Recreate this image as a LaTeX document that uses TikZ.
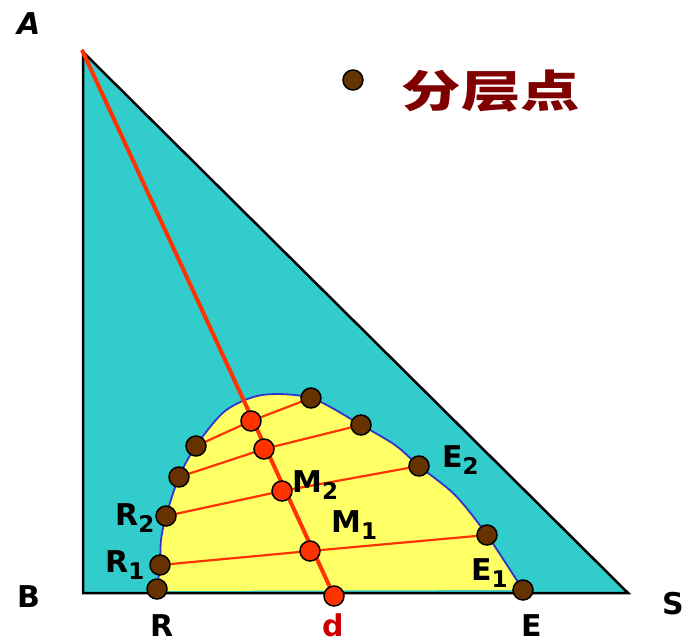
\documentclass[tikz,border=0pt]{standalone}
\usepackage{fontspec}
\setmainfont{DejaVu Sans}
\newfontfamily\cjk{Noto Sans CJK SC}
\definecolor{tealc}{HTML}{33CCCC}
\definecolor{yellowc}{HTML}{FFFF66}
\definecolor{brownc}{HTML}{663300}
\definecolor{redc}{HTML}{FF3300}
\definecolor{bluec}{HTML}{3333CC}
\definecolor{darkredc}{HTML}{800000}
\definecolor{labred}{HTML}{CC0000}
\pgfdeclarelayer{back}
\pgfdeclarelayer{mid}
\pgfsetlayers{back,mid,main}
\tikzset{
  browndot/.style={circle,fill=brownc,draw=black,line width=1.5pt,minimum size=20pt,inner sep=0pt},
  reddot/.style={circle,fill=redc,draw=black,line width=1.5pt,minimum size=20pt,inner sep=0pt},
  tie/.style={draw=redc,line width=2.2pt},
  lab/.style={font=\fontsize{30}{30}\selectfont\bfseries,inner sep=0pt,anchor=base west},
}
\newcommand{\sbs}[1]{\raisebox{-7pt}{\fontsize{23}{23}\selectfont\bfseries #1}}
\def\curvepts{(157,591) (157,589) (160,565) (161,540) (166,516) (179,477) (196,446) (225,411) (262,395) (311,398) (361,425) (395,445) (419,466) (455,495) (487,535) (523,590)}
\begin{document}
\begin{tikzpicture}[x=1pt,y=-1pt]
\coordinate (A) at (83,52);
\coordinate (B) at (83,593);
\coordinate (S) at (628,593);
\coordinate (Atop) at (82,50);
\begin{pgfonlayer}{back}
\fill[white] (0,0) rectangle (698,642);
\fill[tealc] (A)--(B)--(S)--cycle;
\fill[yellowc] plot[smooth] coordinates {\curvepts} -- cycle;
\draw[bluec,line width=1.8pt] plot[smooth] coordinates {\curvepts};
\draw[black,line width=2.5pt,line join=miter] (A)--(B)--(S)--cycle;
\end{pgfonlayer}
\useasboundingbox (0,0) rectangle (698,642);
% dots
\node[browndot] (R) at (157,589) {};
\node[browndot] (R1) at (160,565) {};
\node[browndot] (R2) at (166,516) {};
\node[browndot] (L3) at (179,477) {};
\node[browndot] (L4) at (196,446) {};
\node[browndot] (T4) at (311,398) {};
\node[browndot] (T3) at (361,425) {};
\node[browndot] (E2) at (419,466) {};
\node[browndot] (E1) at (487,535) {};
\node[browndot] (E) at (523,590) {};
\node[reddot] (d) at (334,596) {};
\node[reddot] (M1) at (310,551) {};
\node[reddot] (M2) at (282,491) {};
\node[reddot] (M3) at (264,449) {};
\node[reddot] (M4) at (251,421) {};
\begin{pgfonlayer}{mid}
\draw[redc,line width=4pt] (Atop) -- (d.center);
\draw[tie] (R1.center) -- (M1.center) -- (E1.center);
\draw[tie] (R2.center) -- (M2.center) -- (E2.center);
\draw[tie] (L3.center) -- (M3.center) -- (T3.center);
\draw[tie] (L4.center) -- (M4.center) -- (T4.center);
\end{pgfonlayer}
% labels
\node[lab] (lA) at (17,35) {\itshape A};
\node[lab] (lB) at (17,607) {B};
\node[lab] (lS) at (662,614) {S};
\node[lab] (lR) at (150,636) {R};
\node[lab,text=labred] (ld) at (322,636) {d};
\node[lab] (lE) at (521,636) {E};
\node[lab] (lR2) at (115,525) {R\sbs{2}};
\node[lab] (lR1) at (105,572) {R\sbs{1}};
\node[lab] (lM2) at (292,492) {M\sbs{2}};
\node[lab] (lM1) at (331,532) {M\sbs{1}};
\node[lab] (lE2) at (442,467) {E\sbs{2}};
\node[lab] (lE1) at (471,580) {E\sbs{1}};
% legend
\node[browndot,minimum size=20pt] (leg) at (353,80) {};
\node[text=darkredc,font=\cjk\bfseries\fontsize{44}{44}\selectfont,xscale=1.35,inner sep=0pt] (title) at (491,91) {分层点};
\end{tikzpicture}
\end{document}
